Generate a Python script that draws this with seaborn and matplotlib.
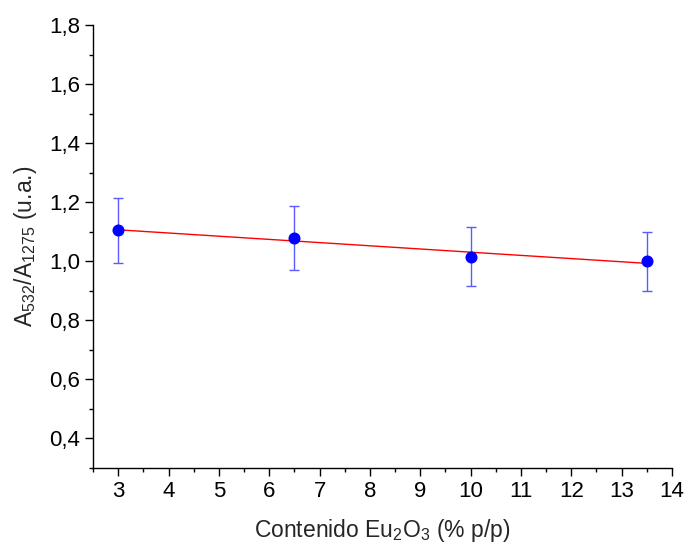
import matplotlib
matplotlib.use("Agg")
import matplotlib.pyplot as plt
from matplotlib.ticker import MultipleLocator, FuncFormatter
import seaborn as sns
import pandas as pd

contenido = [3.0, 6.5, 10.0, 13.5]
ratio = [1.105, 1.079, 1.015, 1.000]
error = [0.110, 0.107, 0.100, 0.100]

df = pd.DataFrame({"x": contenido, "y": ratio, "err": error})

sns.set_style("ticks")
plt.rcParams["font.family"] = ["Liberation Sans", "DejaVu Sans"]
plt.rcParams["mathtext.fontset"] = "custom"
plt.rcParams["mathtext.rm"] = "Liberation Sans"
plt.rcParams["mathtext.it"] = "Liberation Sans:italic"

fig = plt.figure(figsize=(6.85, 5.44), dpi=100)
ax = fig.add_axes([0.1358, 0.1397, 0.8452, 0.8143])

ax.errorbar(df["x"], df["y"], yerr=df["err"], fmt="none", ecolor="#5a5aff",
            elinewidth=1.0, capsize=3.5, capthick=1.0, zorder=2)
sns.regplot(data=df, x="x", y="y", scatter=False, ci=None, truncate=True,
            line_kws={"color": "red", "lw": 1.0, "zorder": 3}, ax=ax)
sns.scatterplot(data=df, x="x", y="y", color="#0000ff", s=75, edgecolor="#0000ff",
                linewidth=0, zorder=4, ax=ax)

ax.set_xlim(2.5, 14)
ax.set_ylim(0.3, 1.8)
ax.xaxis.set_major_locator(MultipleLocator(1))
ax.xaxis.set_minor_locator(MultipleLocator(0.5))
ax.yaxis.set_major_locator(MultipleLocator(0.2))
ax.yaxis.set_minor_locator(MultipleLocator(0.1))
ax.yaxis.set_major_formatter(FuncFormatter(lambda v, p: f"{v:.1f}".replace(".", ",")))
ax.set_xticks([3, 4, 5, 6, 7, 8, 9, 10, 11, 12, 13, 14])

for s in ["top", "right"]:
    ax.spines[s].set_visible(False)
for s in ["left", "bottom"]:
    ax.spines[s].set_linewidth(1.0)
    ax.spines[s].set_color("black")

ax.tick_params(which="major", direction="out", length=5.5, width=1.0, labelsize=16,
               colors="black", pad=4)
ax.tick_params(which="minor", direction="out", length=3, width=1.0, colors="black")

ax.set_xlabel(r"Contenido Eu$\mathregular{_2}$O$\mathregular{_3}$ (% p/p)", fontsize=16.5, labelpad=11)
ax.set_ylabel(r"A$\mathregular{_{532}}$/A$\mathregular{_{1275}}$ (u.a.)", fontsize=16.5, labelpad=7)

fig.savefig("out.png", dpi=100)
